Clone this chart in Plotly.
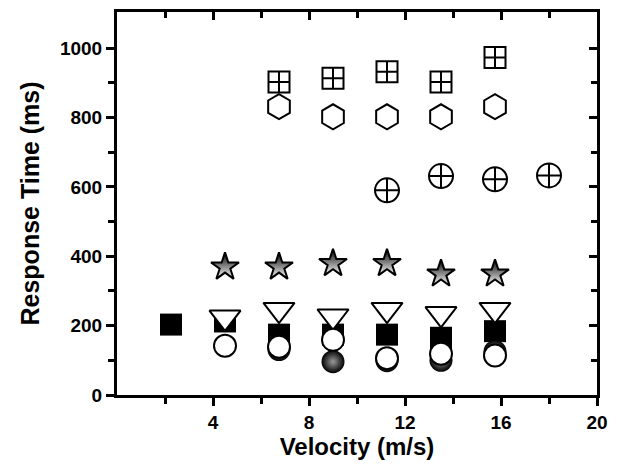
import plotly.graph_objects as go

# ---- data ----
vel_sq = [2.25, 4.5, 6.75, 9, 11.25, 13.5, 15.75]
rt_sq = [203, 212, 174, 174, 174, 165, 184]

vel_sphere = [6.75, 9, 11.25, 13.5, 15.75]
rt_sphere = [131, 96, 99, 100, 125]

vel_tri = [4.5, 6.75, 9, 11.25, 13.5, 15.75]
rt_tri = [224, 246, 227, 246, 234, 246]

vel_circ = [4.5, 6.75, 9, 11.25, 13.5, 15.75]
rt_circ = [142, 139, 159, 106, 119, 114]

vel_star = [4.5, 6.75, 9, 11.25, 13.5, 15.75]
rt_star = [369, 369, 379, 379, 349, 349]

vel_hex = [6.75, 9, 11.25, 13.5, 15.75]
rt_hex = [831, 802, 802, 802, 831]

vel_sqx = [6.75, 9, 11.25, 13.5, 15.75]
rt_sqx = [902, 913, 932, 902, 973]

vel_cx = [11.25, 13.5, 15.75, 18]
rt_cx = [590, 631, 622, 633]

x_ticks = [4, 8, 12, 16, 20]
x_minor = [2, 6, 10, 14, 18]
y_ticks = [0, 200, 400, 600, 800, 1000]
y_minor = [100, 300, 500, 700, 900]

FONT = "Liberation Sans"

fig = go.Figure()

def add(x, y, symbol, size, color, lw=2, gradient=None):
    marker = dict(symbol=symbol, size=size, color=color,
                  line=dict(color="black", width=lw))
    if gradient:
        marker["gradient"] = gradient
    fig.add_trace(go.Scatter(x=x, y=y, mode="markers", marker=marker,
                             showlegend=False, hoverinfo="skip"))

add(vel_sq, rt_sq, "square", 22, "black", lw=0)
add(vel_sphere, rt_sphere, "circle", 23, "black", lw=0,
    gradient=dict(type="radial", color="#9a9a9a"))
add(vel_tri, rt_tri, "triangle-down", 27, "white")
add(vel_circ, rt_circ, "circle", 22, "white")
add(vel_star, rt_star, "star", 21, "black", lw=2,
    gradient=dict(type="vertical", color="white"))
add(vel_hex, rt_hex, "hexagon", 25, "white")
add(vel_sqx, rt_sqx, "square-cross", 21, "white")
add(vel_cx, rt_cx, "circle-cross", 24, "white")

# invisible trace to anchor the mirrored (top/right) axes
fig.add_trace(go.Scatter(x=[None], y=[None], xaxis="x2", yaxis="y2",
                         showlegend=False, hoverinfo="skip"))

tickfont = dict(family=FONT, size=19, color="black", weight="bold")

fig.update_layout(
    width=623, height=465,
    margin=dict(l=117, r=26, t=9, b=68),
    paper_bgcolor="white", plot_bgcolor="white",
    showlegend=False,
    xaxis=dict(range=[0, 20], tickmode="array", tickvals=x_ticks,
               ticks="outside", ticklen=8, tickwidth=2.5, tickcolor="black",
               showline=True, linewidth=3, linecolor="black", mirror=True,
               showgrid=False, zeroline=False, tickfont=tickfont,
               minor=dict(tickmode="array", tickvals=x_minor, ticks="outside",
                          ticklen=6, tickwidth=2.5, tickcolor="black", showgrid=False),
               title=dict(text="Velocity (m/s)", standoff=6,
                          font=dict(family=FONT, size=24, color="black", weight="bold"))),
    yaxis=dict(range=[0, 1104], tickmode="array", tickvals=y_ticks,
               ticks="outside", ticklen=8, tickwidth=2.5, tickcolor="black",
               showline=True, linewidth=3, linecolor="black", mirror=True,
               showgrid=False, zeroline=False, tickfont=tickfont,
               minor=dict(tickmode="array", tickvals=y_minor, ticks="outside",
                          ticklen=6, tickwidth=2.5, tickcolor="black", showgrid=False),
               title=dict(text="Response Time (ms)", standoff=14,
                          font=dict(family=FONT, size=25, color="black", weight="bold"))),
    xaxis2=dict(range=[0, 20], overlaying="x", side="top", anchor="y",
                tickmode="array", tickvals=x_ticks, ticks="inside", ticklen=8,
                tickwidth=2.5, tickcolor="black", showticklabels=False,
                showgrid=False, zeroline=False, showline=False,
                minor=dict(tickmode="array", tickvals=x_minor, ticks="inside",
                           ticklen=6, tickwidth=2.5, tickcolor="black", showgrid=False)),
    yaxis2=dict(range=[0, 1104], overlaying="y", side="right", anchor="x",
                tickmode="array", tickvals=y_ticks, ticks="inside", ticklen=8,
                tickwidth=2.5, tickcolor="black", showticklabels=False,
                showgrid=False, zeroline=False, showline=False,
                minor=dict(tickmode="array", tickvals=y_minor, ticks="inside",
                           ticklen=6, tickwidth=2.5, tickcolor="black", showgrid=False)),
)

fig.write_html("out.html")
